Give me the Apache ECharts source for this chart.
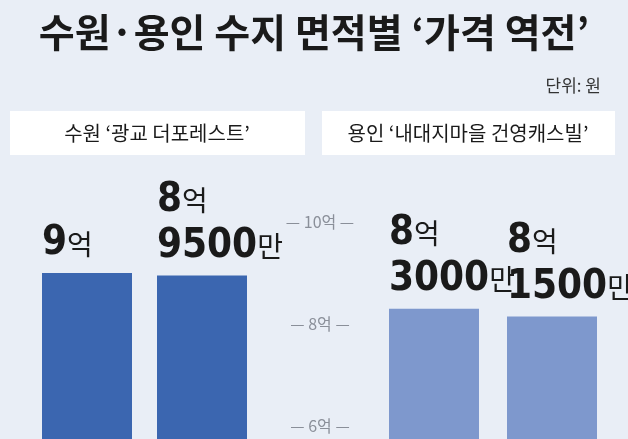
<!DOCTYPE html>
<html><head><meta charset="utf-8">
<script src="https://cdn.jsdelivr.net/npm/echarts@6/dist/echarts.min.js"></script>
<style>html,body{margin:0;padding:0;background:#e9eef6}#c{width:628px;height:439px}</style>
</head><body><div id="c"></div>
<script>
const title = "수원·용인 수지 면적별 ‘가격 역전’";
const unit = "단위: 원";
const groupNames = ["수원 ‘광교 더포레스트’", "용인 ‘내대지마을 건영캐스빌’"];
const suwonCats = ["A", "B"];
const suwonValues = [9.0, 8.95];
const yonginCats = ["A", "B"];
const yonginValues = [8.3, 8.15];
const tickValues = [6, 8, 10];

const F = '"Noto Sans CJK KR", sans-serif';
const FN = '"DejaVu Sans Condensed", "Noto Sans CJK KR", sans-serif';
function fmt(p) {
  const v = p.value;
  const eok = Math.floor(v + 1e-9);
  const man = Math.round((v - eok) * 10000);
  if (man === 0) return '{n|' + eok + '}{u|억}';
  return '{n|' + eok + '}{u|억}\n{n|' + man + '}{u|만}';
}
const labelOpt = {
  show: true, position: 'top', distance: 6, formatter: fmt, align: 'left', offset: [-45, 0],
  rich: {
    n: {fontFamily: FN, fontSize: 40, fontWeight: 'bold', color: '#1a1a1a', lineHeight: 46},
    u: {fontFamily: F, fontSize: 28, fontWeight: 'normal', color: '#1a1a1a', lineHeight: 46}
  }
};
const yMain = {type: 'value', min: 5.75, max: 10, show: false};
const chart = echarts.init(document.getElementById('c'));
chart.setOption({
  backgroundColor: '#e9eef6',
  animation: false,
  title: [{text: title, left: 'center', top: 8, textStyle: {fontFamily: F, fontSize: 39, fontWeight: 'bold', color: '#1a1a1a'}},
          {text: unit, right: 22, top: 72, textStyle: {fontFamily: F, fontSize: 17, fontWeight: 'normal', color: '#333'}}],
  graphic: [
    {type: 'rect', shape: {x: 10, y: 111, width: 295, height: 44}, style: {fill: '#fff'}},
    {type: 'rect', shape: {x: 322, y: 111, width: 293, height: 44}, style: {fill: '#fff'}},
    {type: 'text', x: 157, y: 133, style: {text: groupNames[0], font: '20px ' + F, fill: '#1a1a1a', align: 'center', verticalAlign: 'middle'}},
    {type: 'text', x: 468, y: 133, style: {text: groupNames[1], font: '20px ' + F, fill: '#1a1a1a', align: 'center', verticalAlign: 'middle'}}
  ],
  grid: [
    {left: 29.5, width: 230, top: 222, bottom: 0},
    {left: 375, width: 236, top: 222, bottom: 0},
    {left: 320, width: 1, top: 222, height: 204}
  ],
  xAxis: [
    {gridIndex: 0, type: 'category', data: suwonCats, show: false},
    {gridIndex: 1, type: 'category', data: yonginCats, show: false},
    {gridIndex: 2, type: 'value', show: false}
  ],
  yAxis: [
    Object.assign({gridIndex: 0}, yMain),
    Object.assign({gridIndex: 1}, yMain),
    {gridIndex: 2, type: 'value', min: tickValues[0], max: tickValues[2], interval: 2,
     axisLine: {show: false}, axisTick: {show: false}, splitLine: {show: false},
     axisLabel: {margin: 0, align: 'center', color: '#8a8f99', fontFamily: F, fontSize: 16,
       formatter: v => '— ' + v + '억 —'}}
  ],
  series: [
    {type: 'bar', xAxisIndex: 0, yAxisIndex: 0, data: suwonValues, barWidth: 90,
     itemStyle: {color: '#3b66b0'}, label: labelOpt},
    {type: 'bar', xAxisIndex: 1, yAxisIndex: 1, data: yonginValues, barWidth: 90,
     itemStyle: {color: '#7e98cd'}, label: labelOpt}
  ]
});
</script></body></html>
